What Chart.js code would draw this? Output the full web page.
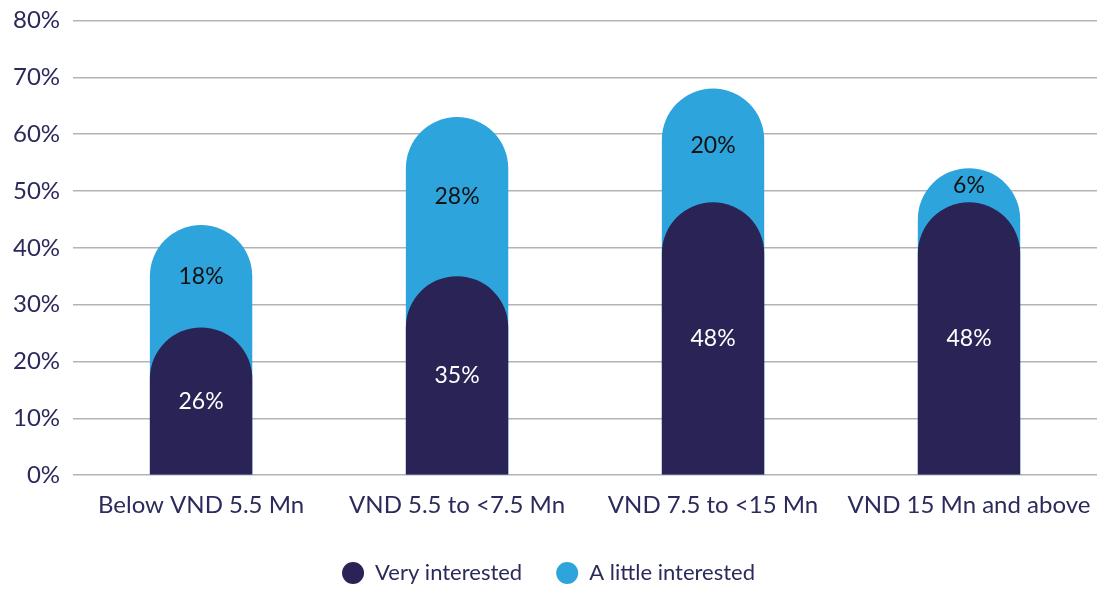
<!DOCTYPE html>
<html>
<head>
<meta charset="utf-8">
<script src="https://cdn.jsdelivr.net/npm/chart.js@4"></script>
<style>
  html, body { margin: 0; padding: 0; background: #fff; }
  #wrap { width: 1113px; height: 589px; }
</style>
</head>
<body>
<div id="wrap"><canvas id="chart" width="1113" height="589"></canvas></div>
<script>
var categories = ["Below VND 5.5 Mn", "VND 5.5 to <7.5 Mn", "VND 7.5 to <15 Mn", "VND 15 Mn and above"];
var veryInterested = [26, 35, 48, 48];
var littleInterested = [18, 28, 20, 6];
var yTicks = [0, 10, 20, 30, 40, 50, 60, 70, 80];

var navy = "#2a2356";
var blue = "#2ea4dd";
var textColor = "#2b2a5c";
var fontFamily = "Lato, 'Open Sans', sans-serif";

// light bar drawn behind, reaching the stacked total
var totals = veryInterested.map(function(v, i) { return v + littleInterested[i]; });

var labelPlugin = {
  id: "segLabels",
  afterDatasetsDraw: function(chart) {
    var ctx = chart.ctx;
    var y = chart.scales.y;
    ctx.save();
    ctx.font = "23px " + fontFamily;
    ctx.textAlign = "center";
    ctx.textBaseline = "middle";
    chart.getDatasetMeta(0).data.forEach(function(bar, i) {
      ctx.fillStyle = "#ffffff";
      ctx.fillText(veryInterested[i] + "%", bar.x, y.getPixelForValue(veryInterested[i] / 2));
    });
    chart.getDatasetMeta(1).data.forEach(function(bar, i) {
      ctx.fillStyle = "#111111";
      ctx.fillText(littleInterested[i] + "%", bar.x, y.getPixelForValue(veryInterested[i] + littleInterested[i] / 2));
    });
    ctx.restore();
  }
};

new Chart("chart", {
  type: "bar",
  data: {
    labels: categories,
    datasets: [{
      label: "Very interested",
      data: veryInterested,
      backgroundColor: navy,
      order: 1
    }, {
      label: "A little interested",
      data: totals,
      backgroundColor: blue,
      order: 2
    }]
  },
  options: {
    responsive: false,
    animation: false,
    layout: { padding: { top: 0, right: 16, left: 0, bottom: -5 } },
    datasets: {
      bar: {
        grouped: false,
        barPercentage: 0.4,
        categoryPercentage: 1,
        borderSkipped: "bottom",
        borderRadius: { topLeft: 60, topRight: 60, bottomLeft: 0, bottomRight: 0 }
      }
    },
    scales: {
      x: {
        grid: { display: false },
        border: { display: false },
        ticks: { color: textColor, font: { family: fontFamily, size: 24 }, padding: 8, maxRotation: 0 }
      },
      y: {
        min: 0,
        max: 80,
        afterBuildTicks: function(axis) {
          axis.ticks = yTicks.map(function(v) { return { value: v }; });
        },
        afterFit: function(axis) {
          axis.paddingTop = Math.max(0, axis.paddingTop - 7);
        },
        grid: { color: "#b3b3b3", lineWidth: 1.5, drawTicks: false },
        border: { display: false },
        ticks: {
          color: textColor,
          font: { family: fontFamily, size: 24 },
          padding: 13,
          callback: function(v) { return v + "%"; }
        }
      }
    },
    plugins: {
      tooltip: { enabled: false },
      legend: {
        position: "bottom",
        labels: {
          color: textColor,
          font: { family: fontFamily, size: 22, lineHeight: 1 },
          usePointStyle: true,
          pointStyle: "circle",
          pointStyleWidth: 22,
          boxHeight: 15.6,
          padding: 34
        }
      }
    }
  },
  plugins: [labelPlugin]
});
</script>
</body>
</html>
